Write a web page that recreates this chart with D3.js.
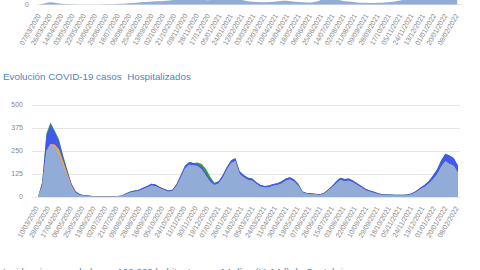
<!DOCTYPE html>
<html><head><meta charset="utf-8">
<script src="https://cdn.jsdelivr.net/npm/d3@7"></script>
<style>body{margin:0;background:#fff;overflow:hidden}svg{display:block}</style>
</head><body>
<svg id="c" width="480" height="270"></svg>
<script>
// ---------- data ----------
const casesLabels = ["07/03/2020","26/03/2020","14/04/2020","03/05/2020","22/05/2020","10/06/2020","29/06/2020","18/07/2020","06/08/2020","25/08/2020","13/09/2020","02/10/2020","21/10/2020","09/11/2020","28/11/2020","17/12/2020","05/01/2021","24/01/2021","12/02/2021","03/03/2021","22/03/2021","10/04/2021","29/04/2021","18/05/2021","06/06/2021","25/06/2021","14/07/2021","02/08/2021","21/08/2021","09/09/2021","28/09/2021","17/10/2021","05/11/2021","24/11/2021","13/12/2021","01/01/2022","20/01/2022","08/02/2022"];
const hospLabels = ["10/03/2020","29/03/2020","17/04/2020","06/05/2020","25/05/2020","13/06/2020","02/07/2020","21/07/2020","09/08/2020","28/08/2020","16/09/2020","05/10/2020","24/10/2020","11/11/2020","30/11/2020","19/12/2020","07/01/2021","26/01/2021","14/02/2021","05/03/2021","24/03/2021","11/04/2021","30/04/2021","19/05/2021","07/06/2021","26/06/2021","15/07/2021","03/08/2021","22/08/2021","10/09/2021","29/09/2021","18/10/2021","05/11/2021","24/11/2021","13/12/2021","01/01/2022","20/01/2022","08/02/2022"];
const casesStart = "07/03/2020", casesEnd = "08/02/2022";
const hospStart = "10/03/2020", hospEnd = "08/02/2022";
const stepDays = 7;
// weekly daily cases (top chart, only its base visible)
const casesWeekly = [5,40,70,60,40,25,12,8,5,3,2,2,2,3,3,5,8,10,15,20,25,35,45,55,65,75,85,90,95,100,110,120,140,180,220,250,230,190,160,140,130,135,150,180,230,260,250,200,150,110,90,80,75,70,70,75,85,100,115,110,95,85,75,65,60,60,80,120,200,250,220,170,120,100,90,75,60,55,50,45,45,50,55,65,75,90,110,140,200,300,450,700,1000,1400,1800,2000,1900,1600,1300,1000,800];
// weekly hospitalised series (middle chart)
const hospGreen = [0,80,345,405,360,312,225,147,70,30,15,10,8,6,5,4,3,3,4,5,8,20,30,35,40,50,60,72,68,55,45,35,40,70,120,170,190,185,188,180,152,112,78,85,120,165,200,210,140,120,105,100,80,65,60,62,70,75,85,100,108,95,70,30,22,20,18,15,20,40,60,85,105,98,100,90,75,60,45,35,28,20,15,14,13,12,12,12,13,20,32,50,65,85,115,150,200,235,225,210,170];
const hospBlue = [0,80,330,395,350,300,215,140,70,30,15,10,8,6,5,4,3,3,4,5,8,20,30,35,40,50,60,72,68,55,45,35,40,70,120,170,190,185,180,165,130,95,75,85,120,165,200,210,140,120,105,100,80,65,60,62,70,75,85,100,108,95,70,30,22,20,18,15,20,40,60,85,105,98,100,90,75,60,45,35,28,20,15,14,13,12,12,12,13,20,32,50,65,85,115,150,200,235,225,210,170];
const hospOrange = [0,60,250,290,285,260,195,128,62,22,10,7,5,4,3,3,2,2,3,4,6,15,24,29,33,42,52,62,58,47,38,29,33,60,105,155,175,172,168,150,115,82,65,74,105,150,185,195,125,106,92,88,70,56,51,53,61,65,74,88,95,83,60,24,17,15,14,11,15,33,51,74,93,86,88,79,65,51,37,28,22,15,11,10,9,8,8,8,9,15,26,42,55,72,95,122,165,195,180,170,130];
const hospLight = [0,60,250,290,270,230,170,110,55,22,10,7,5,4,3,3,2,2,3,4,6,15,24,29,33,42,52,62,58,47,38,29,33,60,105,155,175,172,168,150,115,82,65,74,105,150,185,195,125,106,92,88,70,56,51,53,61,65,74,88,95,83,60,24,17,15,14,11,15,33,51,74,93,86,88,79,65,51,37,28,22,15,11,10,9,8,8,8,9,15,26,42,55,72,95,122,165,195,180,170,130];
const hospTicks = [0,125,250,375,500];
const titleHosp = "Evolución COVID-19 casos  Hospitalizados";
const titleIA = "Incidencia acumulada por 100.000 habitantes por 14 días (IA 14d) de Cantabria";

// ---------- drawing ----------
const parse = d3.timeParse("%d/%m/%Y");
const svg = d3.select("#c");
const FONT = "'Liberation Sans', Arial, sans-serif";
const lightC = "#90acd7", blueC = "#4159ee", greenC = "#3a9e3a", orangeC = "#eea453";
const tickC = "#888", gridC = "#e6e6e6", titleC = "#4f86c6";

function weekly(start, arr){ const s = parse(start); return arr.map((v,i)=>({d:d3.timeDay.offset(s,i*stepDays), v})); }

// --- top (cases) chart, only its lower edge is on screen ---
const xC = d3.scaleTime().domain([parse(casesStart), parse(casesEnd)]).range([41, 459]);
const yC = d3.scaleLinear().domain([0, 3000]).range([4.5, -95]);
const gTop = svg.append("g");
gTop.append("line").attr("x1",38).attr("x2",462).attr("y1",yC(0)).attr("y2",yC(0)).attr("stroke",gridC);
gTop.append("path").datum(weekly(casesStart, casesWeekly))
  .attr("fill", lightC)
  .attr("d", d3.area().x(d=>xC(d.d)).y0(yC(0)).y1(d=>yC(d.v)));
gTop.append("text").attr("x",29).attr("y",yC(0)).attr("dy","0.35em").attr("text-anchor","end")
  .attr("font-family",FONT).attr("font-size",7).attr("fill",tickC).text("0");
gTop.selectAll("text.xl").data(casesLabels).join("text").attr("class","xl")
  .attr("transform", d=>`translate(${xC(parse(d))},${yC(0)+11}) rotate(-60)`)
  .attr("text-anchor","end").attr("font-family",FONT).attr("font-size",7).attr("fill",tickC).text(d=>d);

// --- middle (hospitalised) chart ---
svg.append("text").attr("x",3).attr("y",80).attr("font-family",FONT).attr("font-size",9.8)
  .attr("fill",titleC).style("white-space","pre").text(titleHosp);
const xH = d3.scaleTime().domain([parse(hospStart), parse(hospEnd)]).range([38, 458]);
const yH = d3.scaleLinear().domain([0, 500]).range([197, 105]);
const gMid = svg.append("g");
gMid.selectAll("line.g").data(hospTicks).join("line").attr("class","g")
  .attr("x1",32).attr("x2",460).attr("y1",d=>Math.round(yH(d))+0.5).attr("y2",d=>Math.round(yH(d))+0.5)
  .attr("stroke",gridC);
gMid.selectAll("text.yl").data(hospTicks).join("text").attr("class","yl")
  .attr("x",23).attr("y",d=>yH(d)).attr("dy","0.35em").attr("text-anchor","end")
  .attr("font-family",FONT).attr("font-size",7).attr("fill",tickC).text(d=>d);
const areaH = d3.area().x(d=>xH(d.d)).y0(yH(0)).y1(d=>yH(d.v));
[[hospGreen,greenC],[hospBlue,blueC],[hospOrange,orangeC],[hospLight,lightC]].forEach(([arr,c])=>{
  gMid.append("path").datum(weekly(hospStart, arr)).attr("fill",c).attr("d",areaH);
});
gMid.selectAll("text.xl").data(hospLabels).join("text").attr("class","xl")
  .attr("transform", d=>`translate(${xH(parse(d))+1},${yH(0)+11}) rotate(-60)`)
  .attr("text-anchor","end").attr("font-family",FONT).attr("font-size",7).attr("fill",tickC).text(d=>d);

// --- bottom title (cut by the window, as in the reference) ---
svg.append("text").attr("x",3).attr("y",275).attr("font-family",FONT).attr("font-size",9.8)
  .attr("fill",titleC).text(titleIA);
</script>
</body></html>
